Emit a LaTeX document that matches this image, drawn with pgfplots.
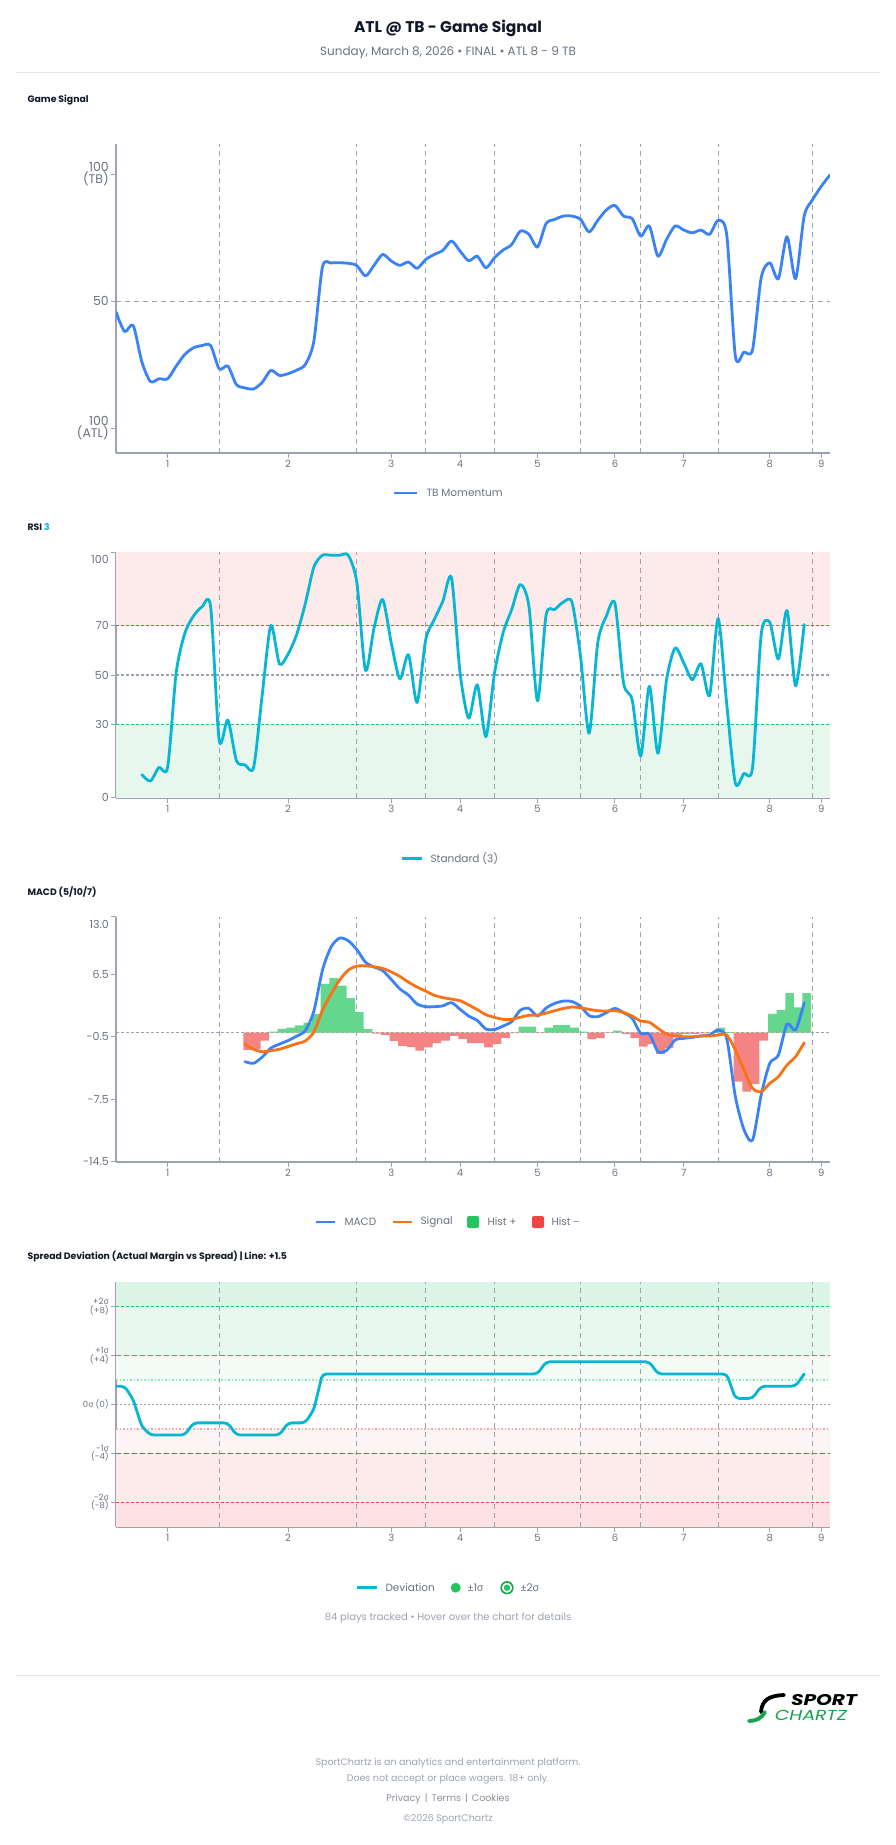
\documentclass[border=0pt]{standalone}
\usepackage{pgfplots}
\pgfplotsset{compat=1.18}
\usepackage{pgfplotstable}
\usepackage{fontspec}
\setmainfont{Poppins}
\newfontfamily\symfont{Noto Sans}
\newcommand{\sig}{{\symfont σ}}
\newcommand{\fs}[1]{\fontsize{#1}{#1}\selectfont}

\definecolor{txtdark}{HTML}{111827}
\definecolor{txtgray}{HTML}{6B7280}
\definecolor{ticklbl}{HTML}{6B7280}
\definecolor{axgray}{HTML}{9CA3AF}
\definecolor{footgray}{HTML}{9CA3AF}
\definecolor{rulegray}{HTML}{E5E7EB}
\definecolor{momblue}{HTML}{3B82F6}
\definecolor{rsicyan}{HTML}{06B6D4}
\definecolor{sigorange}{HTML}{F97316}
\definecolor{hgreen}{HTML}{22C55E}
\definecolor{hred}{HTML}{EF4444}
\definecolor{logogreen}{HTML}{16A34A}
\definecolor{bandpink}{HTML}{FDEBEB}
\definecolor{bandgreen}{HTML}{E8F7EE}
\definecolor{gtwo}{HTML}{DCF5E6}
\definecolor{gone}{HTML}{E9F8EF}
\definecolor{ghalf}{HTML}{F3FBF6}
\definecolor{rhalf}{HTML}{FDF5F5}
\definecolor{rone}{HTML}{FDEBEC}
\definecolor{rtwo}{HTML}{FDE1E3}
\definecolor{gdot}{HTML}{86EFAC}
\definecolor{rdot}{HTML}{F8A5A5}

% TB momentum (0 = ATL 100, 100 = TB 100), one value per play
\pgfplotstableread{
p v
0 45.7
1 38.0
2 40.4
3 26.1
4 18.3
5 19.4
6 19.4
7 24.4
8 29.0
9 31.6
10 32.5
11 32.5
12 23.3
13 24.4
14 17.1
15 15.8
16 15.4
17 18.0
18 22.7
19 20.7
20 21.4
21 22.8
22 25.0
23 34.2
24 63.5
25 65.0
26 65.1
27 64.9
28 64.0
29 59.9
30 64.1
31 68.4
32 65.8
33 64.1
34 65.4
35 62.9
36 66.4
37 68.4
38 70.0
39 73.7
40 69.7
41 65.9
42 67.7
43 63.1
44 67.1
45 70.1
46 72.3
47 77.6
48 76.3
49 71.3
50 80.6
51 82.2
52 83.5
53 83.5
54 82.2
55 77.2
56 81.8
57 85.9
58 87.7
59 83.5
60 82.5
61 75.6
62 79.6
63 67.7
64 74.3
65 79.6
66 78.0
67 76.9
68 78.0
69 76.3
70 81.8
71 76.0
72 28.3
73 29.9
74 30.9
75 59.2
76 65.1
77 58.8
78 75.4
79 58.8
80 83.5
81 90.1
82 95.3
83 99.7
}\momtab

% RSI (3)
\pgfplotstableread{
p v
3 9.4
4 6.8
5 12.4
6 12.4
7 51.0
8 67.0
9 74.0
10 77.8
11 77.8
12 23.3
13 31.7
14 15.1
15 13.4
16 12.4
17 42.0
18 70.2
19 54.5
20 58.5
21 66.5
22 79.0
23 94.0
24 98.8
25 98.8
26 98.8
27 98.8
28 87.6
29 51.9
30 69.2
31 80.8
32 63.1
33 48.4
34 58.3
35 38.8
36 64.4
37 72.6
38 80.1
39 89.6
40 50.8
41 32.4
42 46.0
43 24.9
44 50.8
45 67.2
46 76.7
47 86.9
48 78.1
49 39.5
50 74.5
51 76.7
52 79.7
53 79.7
54 57.6
55 26.3
56 63.1
57 74.0
58 79.2
59 46.7
60 39.9
61 17.0
62 45.4
63 18.1
64 48.1
65 61.0
66 54.9
67 48.1
68 54.6
69 41.6
70 73.0
71 38.0
72 5.9
73 9.9
74 12.4
75 66.5
76 71.5
77 56.5
78 76.3
79 45.6
80 70.6
}\rsitab

% MACD (5/10/7): macd line, signal line, histogram
\pgfplotstableread{
p macd sig hist
15 -3.27 -1.29 -1.95
16 -3.45 -1.89 -1.87
17 -2.75 -2.15 -0.90
18 -1.75 -2.04 0.10
19 -1.30 -1.87 0.41
20 -0.90 -1.57 0.56
21 -0.40 -1.25 0.79
22 0.20 -0.95 1.12
23 2.40 0.05 2.10
24 7.00 2.50 5.46
25 9.60 4.30 6.10
26 10.60 5.90 5.27
27 10.30 7.00 3.85
28 9.30 7.45 2.28
29 7.90 7.48 0.37
30 7.35 7.38 -0.11
31 6.95 7.20 -0.26
32 5.95 6.80 -0.94
33 4.90 6.30 -1.50
34 4.20 5.65 -1.65
35 3.20 5.10 -2.02
36 2.90 4.65 -1.68
37 2.90 4.18 -1.20
38 3.00 3.92 -0.90
39 3.35 3.75 -0.37
40 2.60 3.57 -0.71
41 1.85 3.10 -1.20
42 1.35 2.57 -1.20
43 0.40 2.00 -1.68
44 0.35 1.70 -1.27
45 0.73 1.48 -0.64
46 1.22 1.48 -0.07
47 2.50 1.72 0.67
48 2.71 1.93 0.67
49 1.85 1.96 -0.05
50 2.75 2.18 0.56
51 3.27 2.45 0.82
52 3.53 2.70 0.82
53 3.48 2.86 0.56
54 2.95 2.78 0.10
55 1.90 2.60 -0.75
56 1.78 2.45 -0.64
57 2.23 2.42 -0.03
58 2.71 2.45 0.22
59 2.23 2.25 -0.19
60 1.60 1.85 -0.64
61 -0.10 1.30 -1.57
62 -0.17 1.15 -1.31
63 -2.15 0.47 -2.39
64 -2.00 -0.17 -1.76
65 -0.84 -0.39 -0.45
66 -0.65 -0.47 -0.19
67 -0.54 -0.47 -0.15
68 -0.39 -0.39 -0.10
69 -0.28 -0.39 0.03
70 0.28 -0.28 0.56
71 -0.70 -0.28 0.05
72 -7.20 -1.96 -5.50
73 -10.90 -4.20 -6.62
74 -12.07 -6.27 -5.76
75 -7.00 -6.64 -0.90
76 -3.46 -5.71 2.10
77 -2.53 -4.96 2.54
78 0.95 -3.65 4.41
79 0.28 -2.71 2.81
80 3.35 -1.14 4.41
}\macdtab

% Spread deviation (actual margin vs +1.5 line)
\pgfplotstableread{
p v
0 1.5
1 1.5
2 0.4
3 -1.8
4 -2.5
8 -2.5
9 -1.5
13 -1.5
14 -2.5
19 -2.5
20 -1.5
22 -1.5
23 -0.4
24 2.5
49 2.5
50 3.5
62 3.5
63 2.5
71 2.5
72 0.5
74 0.5
75 1.5
79 1.5
80 2.5
}\devtab

\pgfplotsset{
  panel/.style={
    scale only axis, width=714pt, xmin=0, xmax=83,
    axis x line*=bottom, axis y line*=left,
    axis line style={-, draw=axgray, line width=1.6pt},
    major tick style={draw=axgray, line width=1pt},
    tick align=outside, major tick length=5pt,
    xtick={6,20,32,40,49,58,66,76,82},
    xticklabels={1,2,3,4,5,6,7,8,9},
    xticklabel style={font=\fs{10}, text=ticklbl, inner sep=2pt},
    yticklabel style={font=\fs{11}, text=ticklbl, align=right, inner sep=2pt},
  },
  dataline/.style={line width=2.8pt, line join=round, line cap=round, smooth, tension=0.45},
}
\tikzset{innline/.style={draw=axgray, line width=1.1pt, dash pattern=on 5pt off 4pt}}
\newcommand{\innings}[2]{\pgfplotsinvokeforeach{12,28,36,44,54,61,70,81}{\draw[innline] (axis cs:##1,#1) -- (axis cs:##1,#2);}}

\begin{document}
\begin{tikzpicture}[x=1pt, y=1pt]
\path[use as bounding box, fill=white] (0,0) rectangle (896,-1845);

% header
\node[font=\bfseries\fs{15.5}, text=txtdark] at (448,-28) {ATL @ TB - Game Signal};
\node[font=\fs{12}, text=txtgray] at (448,-53) {Sunday, March 8, 2026 • FINAL • ATL 8 - 9 TB};
\draw[rulegray, line width=1pt] (16,-72) -- (880,-72);

% ---------- Game Signal ----------
\node[anchor=west, font=\bfseries\fs{9.3}, text=txtdark] at (24,-100) {Game Signal};
\begin{axis}[panel, at={(116pt,-453pt)}, anchor=south west, height=309pt,
  ymin=-9.85, ymax=111.9,
  ytick={0,50,100}, yticklabels={{100\\(ATL)},50,{100\\(TB)}},
  yticklabel style={font=\fs{12.5}}]
  \innings{-9.85}{111.9}
  \draw[innline] (axis cs:0,50) -- (axis cs:83,50);
  \addplot[dataline, momblue] table[x=p, y=v] {\momtab};
\end{axis}
\draw[momblue, line width=2.8pt] (394,-493) -- (417,-493);
\node[anchor=west, font=\fs{10.5}, text=txtgray] at (423,-493) {TB Momentum};

% ---------- RSI ----------
\node[anchor=west, font=\bfseries\fs{9.3}] at (24,-527) {\textcolor{txtdark}{RSI} \textcolor{rsicyan}{3}};
\begin{axis}[panel, at={(116pt,-797.7pt)}, anchor=south west, height=245.4pt,
  ymin=0, ymax=100,
  ytick={0,30,50,70,100}, yticklabels={0,30,50,70,{\smash{\raisebox{-11.5pt}{100}}}}]
  \fill[bandpink] (axis cs:0,70) rectangle (axis cs:83,100);
  \fill[bandgreen] (axis cs:0,0) rectangle (axis cs:83,30);
  \innings{0}{100}
  \draw[hred, line width=1.1pt, dash pattern=on 3pt off 2pt] (axis cs:0,70) -- (axis cs:83,70);
  \draw[axgray, line width=1.1pt, dash pattern=on 3pt off 2pt] (axis cs:0,50) -- (axis cs:83,50);
  \draw[hgreen, line width=1.1pt, dash pattern=on 3pt off 2pt] (axis cs:0,30) -- (axis cs:83,30);
  \addplot[dataline, rsicyan] table[x=p, y=v] {\rsitab};
\end{axis}
\draw[rsicyan, line width=2.8pt] (402,-858.7) -- (422,-858.7);
\node[anchor=west, font=\fs{10.5}, text=txtgray] at (427,-858.7) {Standard (3)};

% ---------- MACD ----------
\node[anchor=west, font=\bfseries\fs{9.3}, text=txtdark] at (24,-892) {MACD (5/10/7)};
\begin{axis}[panel, at={(116pt,-1161.7pt)}, anchor=south west, height=245pt,
  ymin=-14.5, ymax=13,
  ytick={-14.5,-7.5,-0.5,6.5,13}, yticklabels={-14.5,-7.5,-0.5,6.5,{\smash{\raisebox{-11.5pt}{13.0}}}}]
  \innings{-14.5}{13}
  \draw[axgray, line width=1.1pt, dash pattern=on 3pt off 2pt] (axis cs:0,0) -- (axis cs:83,0);
  \addplot[ybar, bar width=1, bar shift=0pt, draw=none, fill=hgreen!70!white]
    table[x expr=\thisrow{p}+0.3, y expr={max(\thisrow{hist},0)}] {\macdtab};
  \addplot[ybar, bar width=1, bar shift=0pt, draw=none, fill=hred!66!white]
    table[x expr=\thisrow{p}+0.3, y expr={min(\thisrow{hist},0)}] {\macdtab};
  \addplot[dataline, momblue] table[x=p, y=macd] {\macdtab};
  \addplot[dataline, sigorange] table[x=p, y=sig] {\macdtab};
\end{axis}
\draw[momblue, line width=2.8pt] (316,-1222) -- (335,-1222);
\node[anchor=west, font=\fs{10.5}, text=txtgray] at (341,-1222) {MACD};
\draw[sigorange, line width=2.8pt] (393,-1222) -- (412,-1222);
\node[anchor=west, font=\fs{10.5}, text=txtgray] at (417,-1222) {Signal};
\fill[hgreen, rounded corners=2pt] (467,-1216) rectangle (479,-1228);
\node[anchor=west, font=\fs{10.5}, text=txtgray] at (484,-1222) {Hist +};
\fill[hred, rounded corners=2pt] (532,-1216) rectangle (544,-1228);
\node[anchor=west, font=\fs{10.5}, text=txtgray] at (548,-1222) {Hist {\symfont −}};

% ---------- Spread deviation ----------
\node[anchor=west, font=\bfseries\fs{9.3}, text=txtdark] at (24,-1257) {Spread Deviation (Actual Margin vs Spread) | Line: +1.5};
\begin{axis}[panel, at={(116pt,-1526.7pt)}, anchor=south west, height=244.4pt,
  ymin=-10, ymax=10,
  ytick={-8,-4,0,4,8},
  yticklabels={{-2\sig\\(-8)},{-1\sig\\(-4)},{0\sig\ (0)},{+1\sig\\(+4)},{+2\sig\\(+8)}},
  yticklabel style={font=\fs{8.5}}]
  \fill[gtwo] (axis cs:0,8) rectangle (axis cs:83,10);
  \fill[gone] (axis cs:0,4) rectangle (axis cs:83,8);
  \fill[ghalf] (axis cs:0,2) rectangle (axis cs:83,4);
  \fill[rhalf] (axis cs:0,-4) rectangle (axis cs:83,-2);
  \fill[rone] (axis cs:0,-8) rectangle (axis cs:83,-4);
  \fill[rtwo] (axis cs:0,-10) rectangle (axis cs:83,-8);
  \innings{-10}{10}
  \draw[hgreen, line width=1.1pt, dash pattern=on 3pt off 2pt] (axis cs:0,8) -- (axis cs:83,8);
  \draw[hgreen, line width=1.1pt, dash pattern=on 5pt off 3pt] (axis cs:0,4) -- (axis cs:83,4);
  \draw[gdot, line width=1.4pt, dash pattern=on 1.5pt off 2pt] (axis cs:0,2) -- (axis cs:83,2);
  \draw[axgray, line width=1.8pt, dash pattern=on 2pt off 2pt] (axis cs:0,0) -- (axis cs:83,0);
  \draw[rdot, line width=1.4pt, dash pattern=on 1.5pt off 2pt] (axis cs:0,-2) -- (axis cs:83,-2);
  \draw[hred, line width=1.1pt, dash pattern=on 5pt off 3pt] (axis cs:0,-4) -- (axis cs:83,-4);
  \draw[hred, line width=1.1pt, dash pattern=on 3pt off 2pt] (axis cs:0,-8) -- (axis cs:83,-8);
  \addplot[rsicyan, line width=2.8pt, line cap=round, rounded corners=4pt] table[x=p, y=v] {\devtab};
\end{axis}
\draw[rsicyan, line width=2.8pt] (357,-1587.7) -- (377,-1587.7);
\node[anchor=west, font=\fs{10.5}, text=txtgray] at (382,-1587.7) {Deviation};
\fill[hgreen] (455.7,-1587.7) circle (5);
\node[anchor=west, font=\fs{10.5}, text=txtgray] at (464,-1587.7) {{\symfont ±}1\sig};
\draw[logogreen, line width=1.6pt] (507,-1587.7) circle (5.8);
\fill[hgreen] (507,-1587.7) circle (3.2);
\node[anchor=west, font=\fs{10.5}, text=txtgray] at (517,-1587.7) {{\symfont ±}2\sig};
\node[font=\fs{10}, text=footgray] at (448,-1618) {84 plays tracked • Hover over the chart for details};

% footer
\draw[rulegray, line width=1pt] (16,-1675) -- (880,-1675);
\draw[black, line width=3.8pt, line cap=round] (761,-1712) .. controls (762,-1700) and (769,-1695.5) .. (784,-1695);
\draw[logogreen, line width=3.8pt, line cap=round] (749,-1721) .. controls (756,-1721) and (762,-1718) .. (765,-1712);
\node[font=\bfseries\itshape\fs{15.5}, text=black, xscale=1.3] at (824,-1700) {SPORT};
\node[font=\itshape\fs{14.5}, text=logogreen, xscale=1.3] at (811,-1715) {CHARTZ};
\node[font=\fs{9.5}, text=footgray] at (448,-1763) {SportChartz is an analytics and entertainment platform.};
\node[font=\fs{9.5}, text=footgray] at (448,-1779) {Does not accept or place wagers. 18+ only.};
\node[font=\fs{9.5}, text=txtgray!80!white] at (448,-1799) {Privacy \,|\, Terms \,|\, Cookies};
\node[font=\fs{9.5}, text=footgray] at (448,-1819) {©2026 SportChartz};
\end{tikzpicture}
\end{document}
